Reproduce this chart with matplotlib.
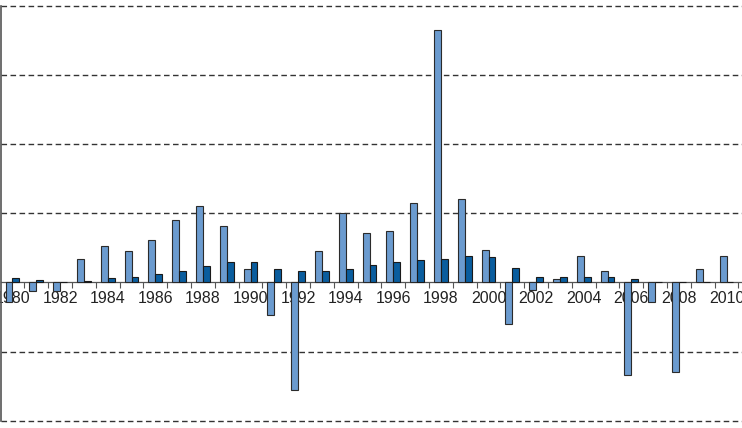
import numpy as np
import matplotlib
matplotlib.use('Agg')
import matplotlib.pyplot as plt

plt.rcParams['font.family'] = ['Liberation Sans', 'DejaVu Sans']

years = list(range(1980, 2012))
series_a = [-0.29, -0.13, -0.12, 0.34, 0.52, 0.46, 0.61, 0.90, 1.10, 0.82,
            0.19, -0.47, -1.55, 0.46, 1.00, 0.72, 0.75, 1.15, 3.65, 1.20,
            0.47, -0.60, -0.11, 0.05, 0.38, 0.16, -1.34, -0.28, -1.30, 0.19,
            0.38, 0.34]
series_b = [0.06, 0.03, 0.0, 0.015, 0.06, 0.08, 0.12, 0.16, 0.23, 0.30,
            0.30, 0.20, 0.16, 0.16, 0.19, 0.25, 0.30, 0.33, 0.34, 0.38,
            0.37, 0.21, 0.08, 0.08, 0.08, 0.08, 0.05, 0.0, 0.0, 0.0,
            0.0, 0.0]
label_years = years[::2]
grid_levels = [-2, -1, 1, 2, 3, 4]

fig = plt.figure(figsize=(7.42, 4.28), dpi=100)
ax = fig.add_axes([1 / 742, 3.8 / 428, 741 / 742, 418.5 / 428])

x = np.arange(len(years))
w = 0.29
ax.bar(x - w / 2, series_a, w, color='#6b9bcf', edgecolor='#2b2b2b',
       linewidth=0.8, zorder=3)
ax.bar(x + w / 2, series_b, w, color='#0a5d9e', edgecolor='#1a1a1a',
       linewidth=0.8, zorder=3)

ax.set_xlim(-0.483, 30.65)
ax.set_ylim(-2.05, 4)

ax.hlines(grid_levels, -0.483, 30.65, colors='#333333', linewidth=1.0,
          linestyles=(0, (4, 2.5)), zorder=1, clip_on=False)

ax.spines['top'].set_visible(False)
ax.spines['right'].set_visible(False)
ax.spines['bottom'].set_position(('data', 0))
ax.spines['bottom'].set_color('#555555')
ax.spines['bottom'].set_linewidth(0.9)
ax.spines['left'].set_color('#555555')
ax.spines['left'].set_linewidth(1.2)
ax.spines['left'].set_bounds(-2, 4)

ax.set_yticks([])
ax.set_xticks(x[:-1] + 0.5, minor=False)
ax.set_xticklabels([])
ax.set_xticks([years.index(y) for y in label_years], minor=True)
ax.set_xticklabels([str(y) for y in label_years], minor=True, fontsize=11.5, color='#222222')
ax.tick_params(axis='x', which='major', direction='out', length=4, width=0.8, color='#555555')
ax.tick_params(axis='x', which='minor', length=0, pad=6)

plt.savefig('out.png', dpi=100)
